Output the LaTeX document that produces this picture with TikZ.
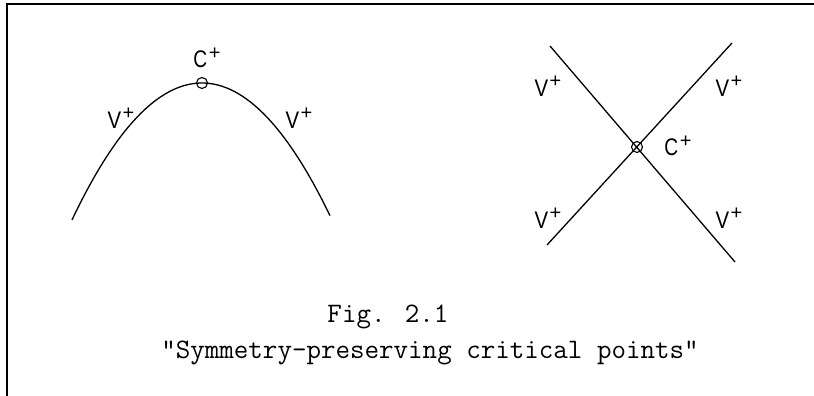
\documentclass[tikz,border=0pt]{standalone}
\usepackage{graphicx}
\usepackage{fontspec}
\setmainfont{Liberation Sans}
\begin{document}
\begin{tikzpicture}[x=1pt,y=-1pt,
  curve/.style={line width=1.3pt},
  crit/.style={circle,draw,line width=1.1pt,minimum size=11pt,inner sep=0pt},
  lab/.style={font=\fontsize{24}{24}\selectfont,inner sep=0pt},
  captxt/.style={font=\ttfamily\fontsize{28.2}{28.2}\selectfont,inner sep=0pt}]
\useasboundingbox (0,0) rectangle (814,396);
% frame
\draw[line width=1.5pt] (7,396) -- (7,4) -- (814,4);
% parabola
\draw[curve] plot[domain=-1.30:1.28,samples=80] ({202+100*\x},{83+81*\x*\x});
\node[crit] (c1) at (202,83) {};
\newcommand{\supplus}{\hspace{1.5pt}\raisebox{8.6pt}{\fontsize{20}{20}\selectfont +}}
\newcommand{\vp}{\scalebox{0.85}[1]{V}\supplus}
\newcommand{\cp}{\scalebox{0.8}[1]{C}\supplus}
\node[lab] (lc1) at (207,58) {\cp};
\node[lab] (lv1) at (121,118) {\vp};
\node[lab] (lv2) at (299,118) {\vp};
% cross
\coordinate (a1) at (550,46);
\coordinate (a2) at (735,262);
\coordinate (b1) at (732,43);
\coordinate (b2) at (547,245);
\draw[curve] (a1) -- (a2);
\draw[curve] (b1) -- (b2);
\node[crit] (c2) at (637,147) {};
\node[lab] (lc2) at (678,146) {\cp};
\node[lab] (lv3) at (548,86) {\vp};
\node[lab] (lv4) at (729,86) {\vp};
\node[lab] (lv5) at (548,218) {\vp};
\node[lab] (lv6) at (729,218) {\vp};
% caption
\node[captxt,anchor=base] (f1) at (388,322) {Fig. 2.1};
\node[captxt,anchor=base] (f2) at (430,358) {"Symmetry-preserving critical points"};
\end{tikzpicture}
\end{document}
